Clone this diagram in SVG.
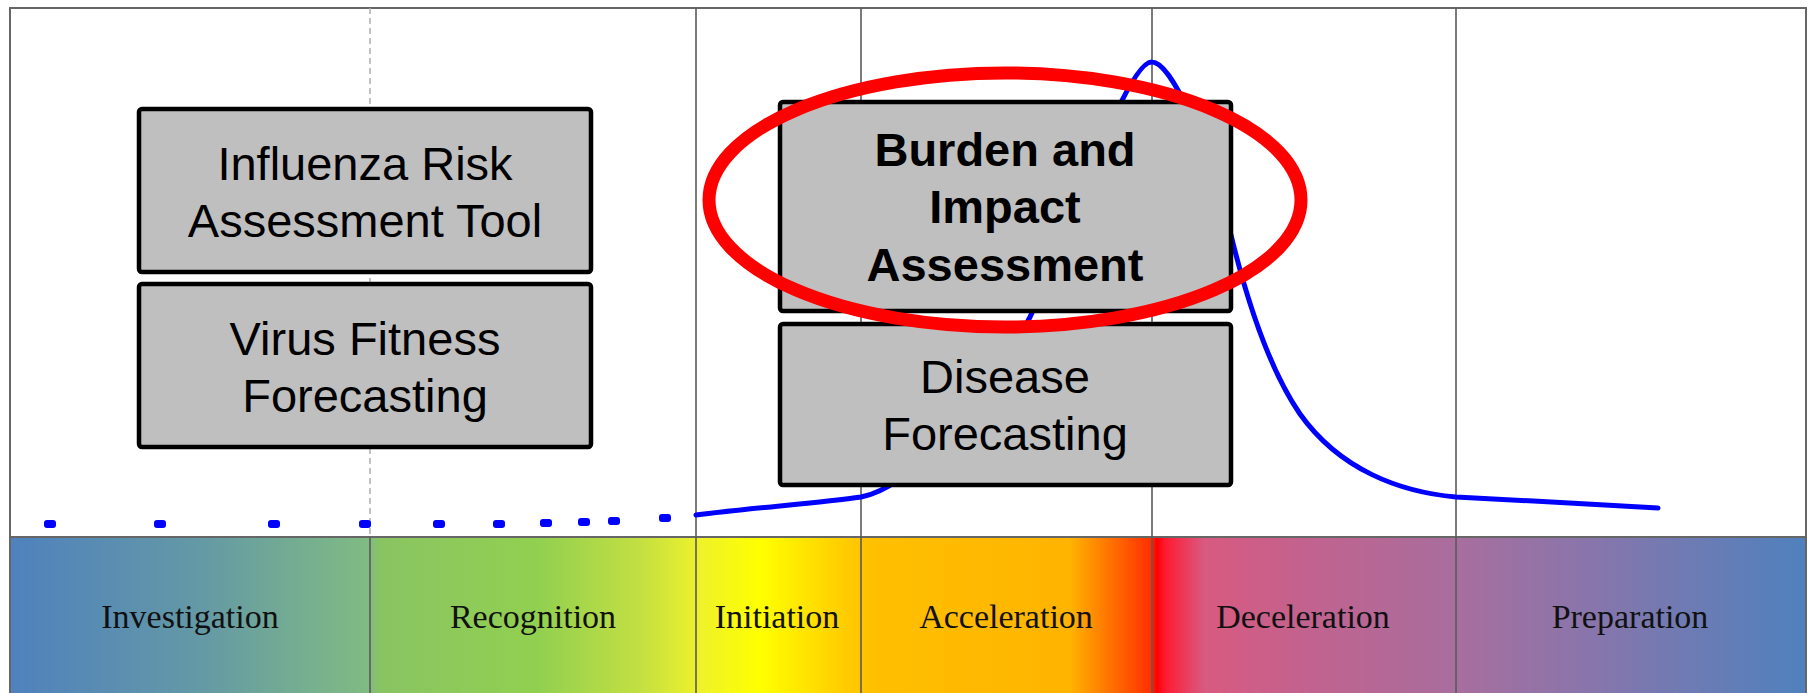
<svg xmlns="http://www.w3.org/2000/svg" width="1812" height="693" viewBox="0 0 1812 693">
<defs>
<linearGradient id="band" gradientUnits="userSpaceOnUse" x1="10" y1="0" x2="1806" y2="0">
<stop offset="0" stop-color="#4f81bd"/>
<stop offset="0.106" stop-color="#6499a6"/>
<stop offset="0.2" stop-color="#80bb82"/>
<stop offset="0.206" stop-color="#89c462"/>
<stop offset="0.295" stop-color="#92d050"/>
<stop offset="0.35" stop-color="#c2df42"/>
<stop offset="0.384" stop-color="#eef22a"/>
<stop offset="0.418" stop-color="#ffff00"/>
<stop offset="0.465" stop-color="#ffcc00"/>
<stop offset="0.479" stop-color="#ffc000"/>
<stop offset="0.59" stop-color="#ffb400"/>
<stop offset="0.635" stop-color="#ff3000"/>
<stop offset="0.6386" stop-color="#ff0000"/>
<stop offset="0.643" stop-color="#ff1a30"/>
<stop offset="0.665" stop-color="#d85a80"/>
<stop offset="0.72" stop-color="#c3628e"/>
<stop offset="0.805" stop-color="#a86e9e"/>
<stop offset="0.885" stop-color="#8676ac"/>
<stop offset="1" stop-color="#4f81bd"/>
</linearGradient>
</defs>
<style>
.box{fill:#bfbfbf;stroke:#000;stroke-width:4.5}
.t{font-family:"Liberation Sans",Arial,sans-serif;font-size:47px;fill:#000;text-anchor:middle}
.tb{font-weight:bold}
.bl{font-family:"Liberation Serif","Times New Roman",serif;font-size:34px;fill:#111;text-anchor:middle}
.vl{stroke:#5a5a5a;stroke-width:1.6;fill:none}
.dot{fill:#0000ff}
</style>
<rect x="0" y="0" width="1812" height="693" fill="#ffffff"/>
<g id="bands">
<rect x="10" y="537" width="1796" height="160" fill="url(#band)"/>
<line x1="10" y1="537" x2="1806" y2="537" stroke="#666" stroke-width="2"/>
<text class="bl" x="190" y="628">Investigation</text>
<text class="bl" x="533" y="628">Recognition</text>
<text class="bl" x="777" y="628">Initiation</text>
<text class="bl" x="1006" y="628">Acceleration</text>
<text class="bl" x="1303" y="628">Deceleration</text>
<text class="bl" x="1630" y="628">Preparation</text>
</g>
<g id="frame">
<rect x="10" y="8" width="1796" height="700" fill="none" stroke="#666" stroke-width="2"/>
<line x1="370" y1="8" x2="370" y2="537" stroke="#b0b0b0" stroke-width="1.5" stroke-dasharray="6 4"/>
<line class="vl" x1="370" y1="537" x2="370" y2="693" stroke="#333"/>
<line class="vl" x1="696" y1="8" x2="696" y2="693"/>
<line class="vl" x1="861" y1="8" x2="861" y2="693"/>
<line class="vl" x1="1152" y1="8" x2="1152" y2="693"/>
<line class="vl" x1="1456" y1="8" x2="1456" y2="693"/>
</g>
<g id="curve">
<rect class="dot" x="44" y="520" width="12" height="8" rx="3"/>
<rect class="dot" x="154" y="520" width="12" height="8" rx="3"/>
<rect class="dot" x="268" y="520" width="12" height="8" rx="3"/>
<rect class="dot" x="359" y="520" width="12" height="8" rx="3"/>
<rect class="dot" x="433" y="520" width="12" height="8" rx="3"/>
<rect class="dot" x="493" y="520" width="12" height="8" rx="3"/>
<rect class="dot" x="540" y="519" width="12" height="8" rx="3"/>
<rect class="dot" x="578" y="518" width="12" height="8" rx="3"/>
<rect class="dot" x="608" y="517" width="12" height="8" rx="3"/>
<rect class="dot" x="659" y="514" width="12" height="8" rx="3"/>
<path d="M696,515 C750,508 820,503 861,497 C910,488 985,405 1030,317 C1062,252 1126,60 1152,62 C1172,62 1210,150 1231,235 C1248,305 1270,370 1300,414 C1340,470 1400,492 1456,497 C1520,500 1600,505 1658,508" fill="none" stroke="#0000ff" stroke-width="5" stroke-linecap="round"/>
</g>
<g id="node-irat">
<rect class="box" x="139" y="109" width="452" height="163" rx="3"/>
<text class="t" x="365" y="180">Influenza Risk</text>
<text class="t" x="365" y="237">Assessment Tool</text>
</g>
<g id="node-virus">
<rect class="box" x="139" y="284" width="452" height="163" rx="3"/>
<text class="t" x="365" y="355">Virus Fitness</text>
<text class="t" x="365" y="412">Forecasting</text>
</g>
<g id="node-burden">
<rect class="box" x="780" y="102" width="451" height="209" rx="3"/>
<text class="t tb" x="1005" y="166">Burden and</text>
<text class="t tb" x="1005" y="223">Impact</text>
<text class="t tb" x="1005" y="281">Assessment</text>
</g>
<g id="node-disease">
<rect class="box" x="780" y="324" width="451" height="161" rx="3"/>
<text class="t" x="1005" y="393">Disease</text>
<text class="t" x="1005" y="450">Forecasting</text>
</g>
<g id="highlight">
<ellipse cx="1005" cy="200" rx="296" ry="127" fill="none" stroke="#ff0000" stroke-width="13"/>
</g>
</svg>
